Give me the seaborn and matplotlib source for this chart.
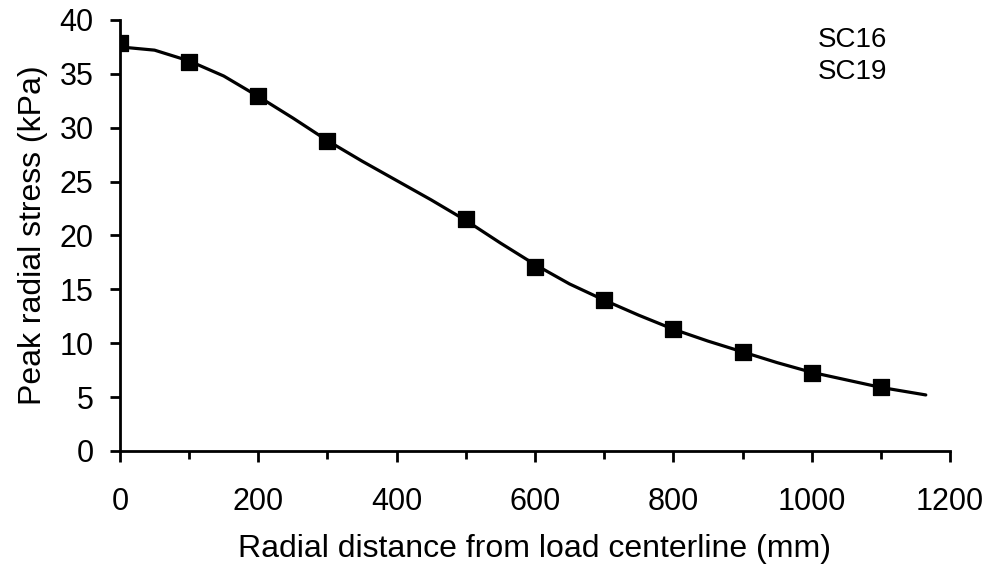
import matplotlib
matplotlib.use("Agg")
import matplotlib.pyplot as plt
import seaborn as sns
import pandas as pd

# measured points (square markers)
dist_pts = [0, 100, 200, 300, 500, 600, 700, 800, 900, 1000, 1100]
stress_pts = [37.9, 36.1, 32.9, 28.8, 21.5, 17.1, 14.0, 11.3, 9.2, 7.2, 5.9]

# fitted curve
dist_fit = [0, 50, 100, 150, 200, 250, 300, 350, 400, 450, 500, 550, 600,
            650, 700, 750, 800, 850, 900, 950, 1000, 1050, 1100, 1165]
stress_fit = [37.5, 37.2, 36.2, 34.8, 32.9, 30.9, 28.8, 26.9, 25.1, 23.3,
              21.4, 19.3, 17.3, 15.5, 14.0, 12.6, 11.3, 10.2, 9.2, 8.2,
              7.3, 6.6, 5.9, 5.2]

legend_labels = ["SC16", "SC19"]

sns.set_style("ticks")
plt.rcParams['font.family'] = ['Liberation Sans', 'DejaVu Sans']
plt.rcParams['text.color'] = 'black'
plt.rcParams['axes.labelcolor'] = 'black'

pts = pd.DataFrame({'x': dist_pts, 'y': stress_pts})
fit = pd.DataFrame({'x': dist_fit, 'y': stress_fit})

fig = plt.figure(figsize=(9.9, 5.71), dpi=100)
ax = fig.add_axes([0.1212, 0.2102, 0.8384, 0.7548])

sns.lineplot(data=fit, x='x', y='y', ax=ax, color='black', linewidth=2.3, sort=False)
sns.scatterplot(data=pts, x='x', y='y', ax=ax, marker='s', s=130,
                color='black', edgecolor='black', zorder=3)

ax.set_xlim(0, 1200)
ax.set_ylim(0, 40)
ax.set_xticks(range(0, 1201, 200))
ax.set_xticks(range(0, 1201, 100), minor=True)
ax.set_yticks(range(0, 41, 5))

ax.set_xlabel('Radial distance from load centerline (mm)', fontsize=23, labelpad=12, color='black')
ax.set_ylabel('Peak radial stress (kPa)', fontsize=23, labelpad=8, color='black')
ax.tick_params(axis='both', which='both', direction='out', width=2, colors='black', labelsize=22)
ax.tick_params(axis='y', length=7, pad=12)
ax.tick_params(axis='x', which='major', length=8, pad=18)
ax.tick_params(axis='x', which='minor', length=6)

for side in ['left', 'bottom']:
    ax.spines[side].set_linewidth(2)
    ax.spines[side].set_color('black')
sns.despine(ax=ax)

ax.text(0.841, 0.954, legend_labels[0], transform=ax.transAxes, fontsize=20, va='center', color='black')
ax.text(0.841, 0.879, legend_labels[1], transform=ax.transAxes, fontsize=20, va='center', color='black')

fig.savefig('out.png', dpi=100)
